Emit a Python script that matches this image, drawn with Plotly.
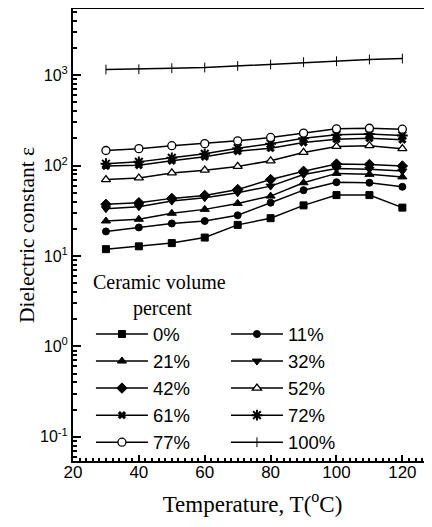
import plotly.graph_objects as go
import numpy as np

temperature = [30, 40, 50, 60, 70, 80, 90, 100, 110, 120]

series_names = ["0%", "11%", "21%", "32%", "42%", "52%", "61%", "72%", "77%", "100%"]

eps_0 = [11.9, 12.8, 13.9, 16.0, 22.1, 26.2, 36.3, 47.2, 47.2, 34.3]
eps_11 = [18.7, 20.7, 22.9, 24.4, 28.2, 38.9, 53.5, 65.5, 64.6, 58.3]
eps_21 = [24.4, 25.5, 29.7, 32.8, 38.2, 46.0, 64.6, 82.0, 80.0, 75.0]
eps_32 = [33.4, 35.1, 40.5, 44.2, 50.1, 59.3, 79.6, 93.0, 91.0, 87.0]
eps_42 = [37.3, 38.9, 43.4, 46.8, 54.5, 70.2, 86.5, 104.0, 103.0, 99.0]
eps_52 = [70, 73, 83, 89, 98, 113, 140, 163, 166, 154]
eps_61 = [99, 101, 113, 125, 144, 156, 180, 196, 201, 193]
eps_72 = [105, 110, 122, 135, 156, 175, 201, 219, 223, 215]
eps_77 = [147, 154, 166, 175, 188, 205, 229, 255, 259, 253]
eps_100 = [1156, 1165, 1195, 1216, 1267, 1313, 1392, 1428, 1491, 1529]

series_values = [eps_0, eps_11, eps_21, eps_32, eps_42, eps_52, eps_61, eps_72, eps_77, eps_100]

y_tick_vals = [0.1, 1, 10, 100, 1000]
y_tick_text = ["10<sup>-1</sup>", "10<sup>0</sup>", "10<sup>1</sup>", "10<sup>2</sup>", "10<sup>3</sup>"]

styles = [
    dict(symbol="square", size=7, color="black", line=dict(color="black", width=1)),
    dict(symbol="circle", size=7, color="black", line=dict(color="black", width=1)),
    dict(symbol="triangle-up", size=8, color="black", line=dict(color="black", width=1)),
    dict(symbol="triangle-down", size=8, color="black", line=dict(color="black", width=1)),
    dict(symbol="diamond", size=8, color="black", line=dict(color="black", width=1)),
    dict(symbol="triangle-up", size=8, color="white", line=dict(color="black", width=1.3)),
    dict(symbol="x", size=7, color="black", line=dict(color="black", width=0.5)),
    dict(symbol="asterisk-open", size=9, color="black", line=dict(color="black", width=2)),
    dict(symbol="circle", size=8, color="white", line=dict(color="black", width=1.3)),
    dict(symbol="line-ns-open", size=7, color="black", line=dict(color="black", width=1)),
]

fig = go.Figure()
for name, vals, st in zip(series_names, series_values, styles):
    fig.add_trace(go.Scatter(
        x=temperature, y=vals, name=name, mode="lines+markers",
        line=dict(color="black", width=1.5),
        marker=st,
    ))

minor_y = [m * 10.0 ** e for e in range(-2, 4) for m in range(2, 10)]

sans = "Liberation Sans, Arial, sans-serif"
serif = "Liberation Serif, Times New Roman, serif"

# page body has an 8px default margin, so the figure is sized to fit the window
fig.update_layout(
    width=424, height=519,
    margin=dict(l=65, r=0, t=1, b=66, autoexpand=False),
    paper_bgcolor="white", plot_bgcolor="white",
    font=dict(family=sans, size=16, color="black"),
    xaxis=dict(
        range=[20, 129], tickvals=[20, 40, 60, 80, 100, 120],
        ticks="inside", ticklen=6, tickwidth=1.5, tickcolor="black",
        showline=True, linecolor="black", linewidth=2, mirror=True,
        showgrid=False, zeroline=False, ticklabelstandoff=-5,
        minor=dict(dtick=2, tick0=20, ticks="inside", ticklen=3, tickcolor="black", showgrid=False),
        tickfont=dict(family=sans, size=17),
        title=dict(text="Temperature, T(<sup>o</sup>C)", font=dict(family=serif, size=23), standoff=14),
    ),
    yaxis=dict(
        type="log", range=[np.log10(0.054), np.log10(5400)],
        tickvals=y_tick_vals, ticktext=y_tick_text,
        ticks="inside", ticklen=8, tickwidth=1.5, tickcolor="black",
        showline=True, linecolor="black", linewidth=2, mirror=True,
        showgrid=False, zeroline=False,
        minor=dict(tickvals=minor_y, ticks="inside", ticklen=4, tickcolor="black", showgrid=False),
        tickfont=dict(family=sans, size=16),
        title=dict(text="Dielectric constant ε\u00a0\u00a0\u00a0\u00a0", font=dict(family=serif, size=21.5), standoff=0),
    ),
    legend=dict(
        orientation="h", x=0.05, y=0.437, xanchor="left", yanchor="top",
        entrywidth=68, entrywidthmode="pixels", itemwidth=52,
        bgcolor="rgba(0,0,0,0)",
        font=dict(family=sans, size=18.5),
        title=dict(text="Ceramic volume<br>\u00a0\u00a0\u00a0\u00a0\u00a0\u00a0\u00a0\u00a0percent",
                   side="top", font=dict(family=serif, size=20)),
        traceorder="normal",
    ),
)

fig.write_html("out.html")
